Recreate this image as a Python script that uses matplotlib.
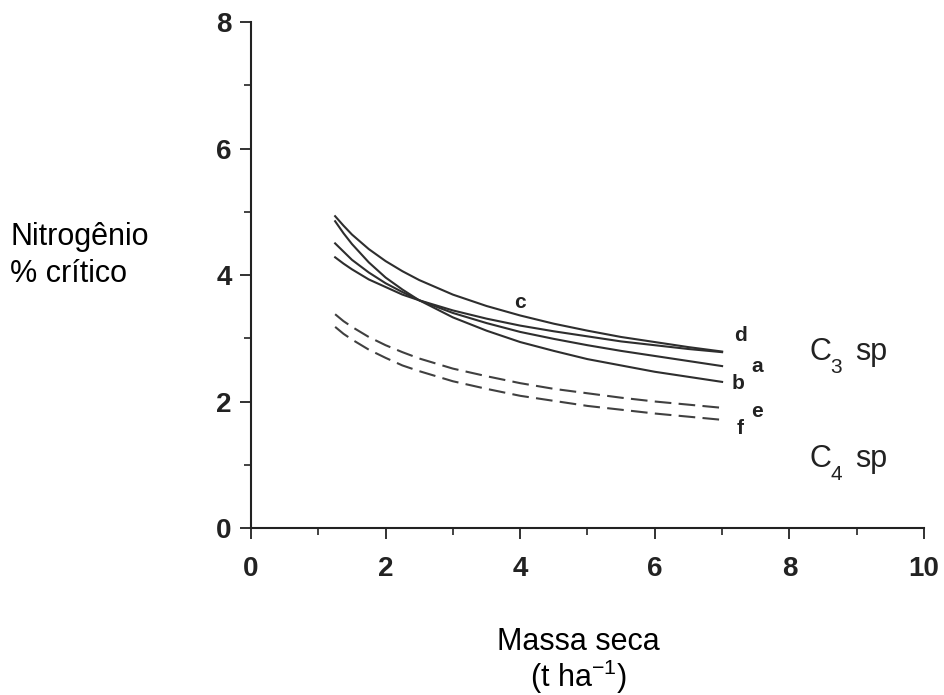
import matplotlib
matplotlib.use("Agg")
import matplotlib.pyplot as plt
from matplotlib.ticker import MultipleLocator

plt.rcParams['font.family'] = ['Liberation Sans', 'DejaVu Sans']
plt.rcParams['mathtext.fontset'] = 'custom'
plt.rcParams['mathtext.rm'] = 'Liberation Sans'
plt.rcParams['mathtext.it'] = 'Liberation Sans'

# dry mass (t/ha) where the curves were read
massa = [1.25, 1.375, 1.5, 1.75, 2, 2.25, 2.5, 3, 3.5, 4, 4.5, 5, 5.5, 6, 6.5, 7]

# critical N (%) for each curve
curve_a = [4.50, 4.37, 4.24, 4.04, 3.87, 3.73, 3.60, 3.40, 3.24, 3.10, 2.99, 2.89, 2.80, 2.72, 2.64, 2.56]
curve_b = [4.85, 4.66, 4.49, 4.20, 3.96, 3.77, 3.60, 3.33, 3.12, 2.94, 2.80, 2.67, 2.57, 2.47, 2.39, 2.31]
curve_c = [4.93, 4.78, 4.64, 4.41, 4.22, 4.06, 3.92, 3.69, 3.51, 3.36, 3.23, 3.12, 3.02, 2.94, 2.86, 2.79]
curve_d = [4.28, 4.18, 4.09, 3.93, 3.81, 3.69, 3.60, 3.44, 3.31, 3.20, 3.11, 3.03, 2.95, 2.89, 2.83, 2.78]
curve_e = [3.38, 3.27, 3.18, 3.02, 2.89, 2.78, 2.68, 2.52, 2.40, 2.29, 2.20, 2.13, 2.06, 2.00, 1.95, 1.90]
curve_f = [3.18, 3.07, 2.98, 2.82, 2.69, 2.57, 2.48, 2.32, 2.20, 2.09, 2.01, 1.93, 1.87, 1.81, 1.76, 1.71]

solid = {'a': curve_a, 'b': curve_b, 'c': curve_c, 'd': curve_d}
dashed = {'e': curve_e, 'f': curve_f}

fig = plt.figure(figsize=(9.44, 6.95), dpi=100)
ax = fig.add_axes([0.2659, 0.2403, 0.7129, 0.728])

col = '#2e2e2e'
for name, vals in solid.items():
    ax.plot(massa, vals, color=col, lw=1.5, solid_joinstyle='round')
for name, vals in dashed.items():
    ax.plot(massa, vals, color='#404040', lw=1.5, dashes=(8, 3.5))

# curve letters
letters = {'c': (4.0, 3.57), 'd': (7.28, 3.05), 'a': (7.52, 2.56),
           'b': (7.24, 2.29), 'e': (7.52, 1.84), 'f': (7.27, 1.58)}
for k, (lx, ly) in letters.items():
    ax.text(lx, ly, k, fontsize=15, fontweight='bold', color='#222222',
            ha='center', va='center')

# C3 / C4 group labels
for lbl, sub, yb in (('C', '3', 0.482), ('C', '4', 0.328)):
    fig.text(0.857, yb, lbl, fontsize=22, va='baseline', ha='left', color='#222222')
    fig.text(0.880, yb - 0.018, sub, fontsize=15, va='baseline', ha='left', color='#222222')
    fig.text(0.906, yb, 'sp', fontsize=22, va='baseline', ha='left', color='#222222')

ax.set_xlim(0, 10)
ax.set_ylim(0, 8)
ax.spines['top'].set_visible(False)
ax.spines['right'].set_visible(False)
for s in ('left', 'bottom'):
    ax.spines[s].set_linewidth(1.5)
    ax.spines[s].set_color('#222222')

ax.xaxis.set_major_locator(MultipleLocator(2))
ax.xaxis.set_minor_locator(MultipleLocator(1))
ax.yaxis.set_major_locator(MultipleLocator(2))
ax.yaxis.set_minor_locator(MultipleLocator(1))
ax.tick_params(which='major', length=8, width=1.3, color='#222222')
ax.tick_params(which='minor', length=5, width=1.2, color='#222222')
ax.tick_params(axis='x', which='major', pad=12)
ax.tick_params(axis='y', which='major', pad=6)
for lab in ax.get_xticklabels() + ax.get_yticklabels():
    lab.set_fontsize(20)
    lab.set_fontweight('bold')
    lab.set_color('#222222')

fig.text(0.011, 0.647, 'Nitrogênio', fontsize=22, ha='left', va='baseline')
fig.text(0.011, 0.594, '% crítico', fontsize=22, ha='left', va='baseline')
fig.text(0.613, 0.0647, 'Massa seca', fontsize=22, ha='center', va='baseline')
fig.text(0.613, 0.0115, '(t ha$^{-1}$)', fontsize=22, ha='center', va='baseline')

fig.savefig('out.png', dpi=100)
